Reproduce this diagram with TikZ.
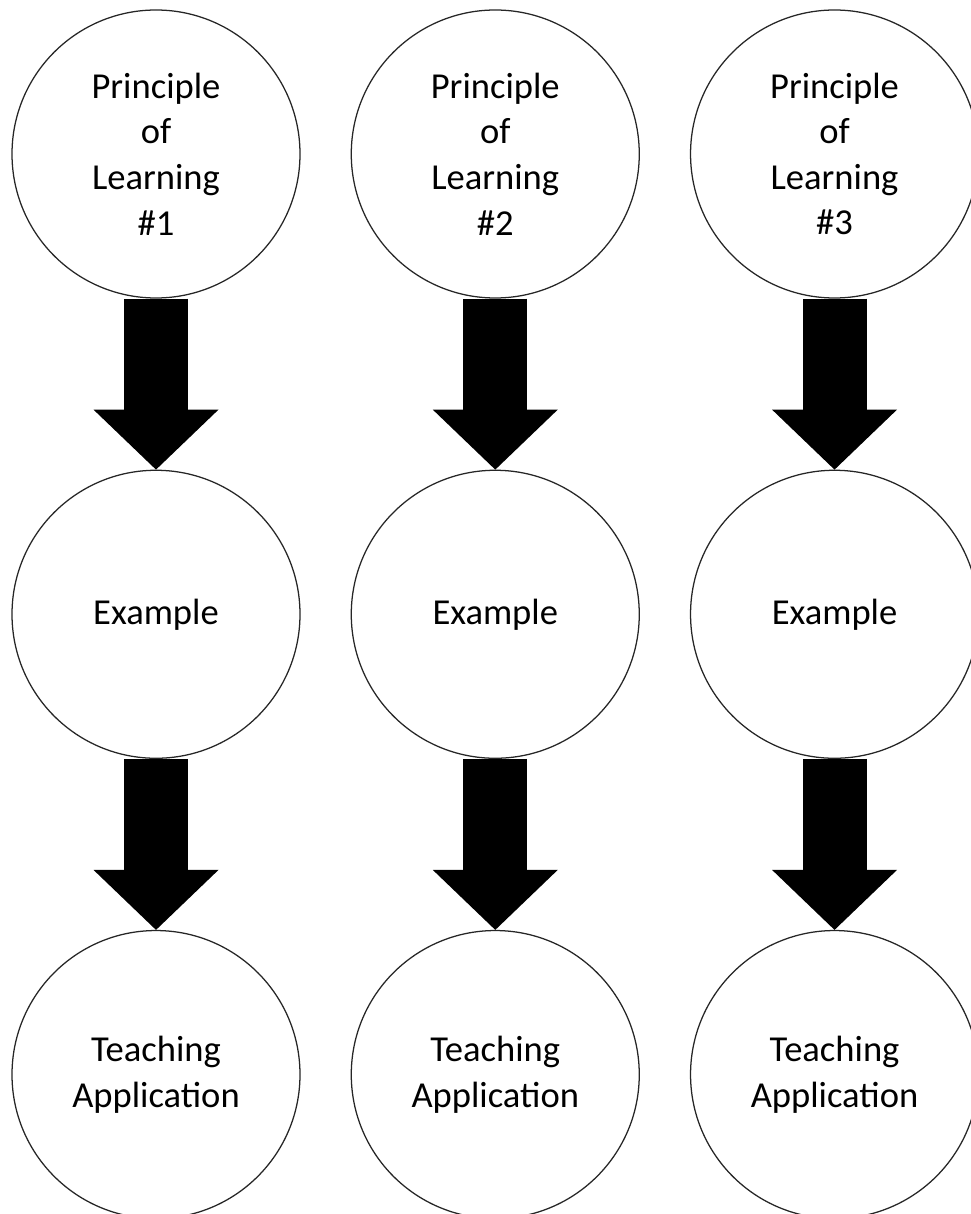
\documentclass[tikz,border=0pt]{standalone}
\usepackage{fontspec}
\setmainfont{Carlito}
\usetikzlibrary{positioning,arrows.meta}
\tikzstyle{idea} = [draw=black!85, line width=0.9pt, fill=white, circle, minimum size=7.2cm, inner sep=0pt, align=center, font=\fontsize{26}{32.4}\selectfont]
\tikzstyle{fatarrow} = [line width=1.6cm, -{Triangle[width=3.125cm, length=1.5cm, line width=0pt]}]

\begin{document}
\begin{tikzpicture}
    \useasboundingbox (0,0) rectangle (24.25,-30.35);

    \node (p1) [idea] at (3.9,-3.85) {Principle\\of\\Learning\\\#1};
    \node (p2) [idea, right=1.25cm of p1] {Principle\\of\\Learning\\\#2};
    \node (p3) [idea, right=1.25cm of p2] {Principle\\of\\Learning\\\#3};

    \node (e1) [idea, below=4.275cm of p1] {Example};
    \node (e2) [idea, below=4.275cm of p2] {Example};
    \node (e3) [idea, below=4.275cm of p3] {Example};

    \node (t1) [idea, below=4.275cm of e1] {Teaching\\Application};
    \node (t2) [idea, below=4.275cm of e2] {Teaching\\Application};
    \node (t3) [idea, below=4.275cm of e3] {Teaching\\Application};

    \draw [fatarrow] (p1.south) -- (e1.north);
    \draw [fatarrow] (p2.south) -- (e2.north);
    \draw [fatarrow] (p3.south) -- (e3.north);

    \draw [fatarrow] (e1.south) -- (t1.north);
    \draw [fatarrow] (e2.south) -- (t2.north);
    \draw [fatarrow] (e3.south) -- (t3.north);
  \end{tikzpicture}
\end{document}
